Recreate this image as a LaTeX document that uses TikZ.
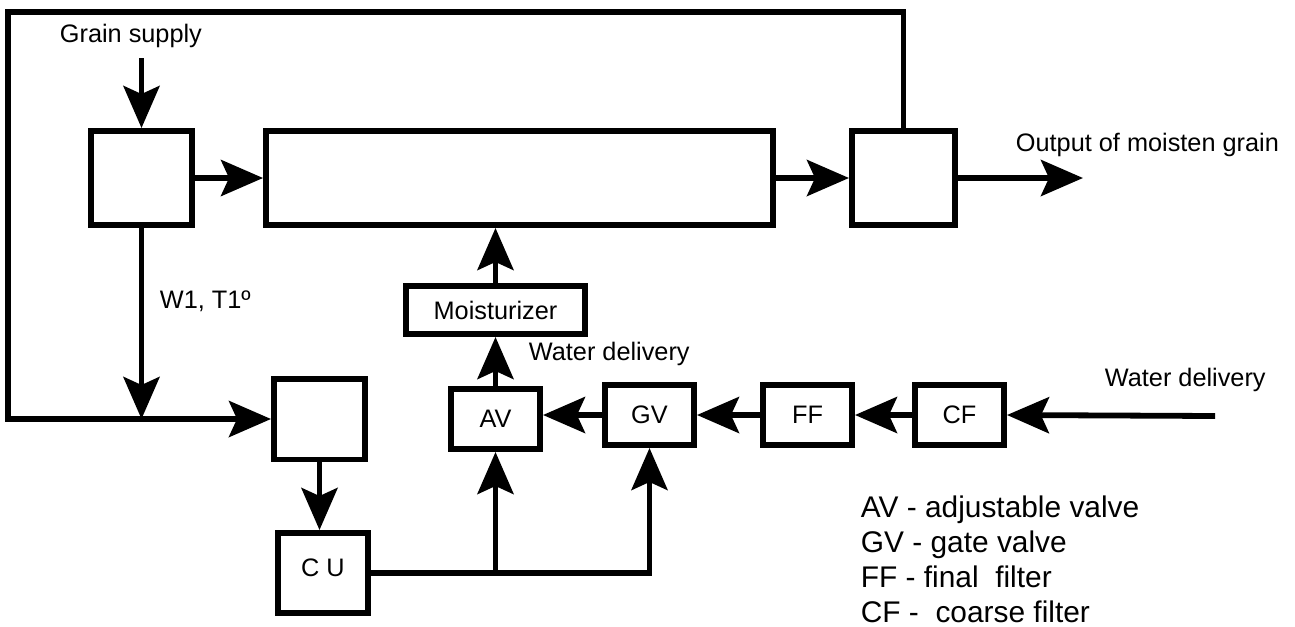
\documentclass[tikz,border=0pt]{standalone}
\usepackage{fontspec}
\setmainfont{Liberation Sans}
\usetikzlibrary{arrows.meta,positioning}

\begin{document}
\begin{tikzpicture}[x=0.02cm,y=-0.02cm,line width=3.3pt,
    font=\fontsize{14.4}{17}\selectfont,
    >={Stealth[length=8.4mm,width=7.2mm,inset=1.6mm]},
    blk/.style={draw,line width=3.4pt,inner sep=0pt},
    lbl/.style={anchor=base west,inner sep=0pt}]
  \useasboundingbox (0,0) rectangle (1295,626);
  % grain line
  \node[blk,minimum width=2.02cm,minimum height=1.88cm] (feed) at (141.5,178) {};
  \node[blk,minimum width=10.14cm,minimum height=1.88cm] (mix) at (519.5,178) {};
  \node[blk,minimum width=2.06cm,minimum height=1.88cm] (outb) at (903.5,178) {};
  \node[blk,minimum width=1.82cm,minimum height=1.62cm] (sens) at (319.5,419) {};
  \node[blk,minimum width=1.8cm,minimum height=1.6cm,text depth=0.2cm] (cu) at (323,573) {C U};
  \node[blk,minimum width=3.58cm,minimum height=0.96cm] (moist) at (495.5,310) {Moisturizer};
  % water line
  \foreach \n/\t/\x/\y in {av/AV/495.5/419,gv/GV/649.5/415,ff/FF/807.5/415,cf/CF/959.5/415}
    \node[blk,minimum width=1.78cm,minimum height=1.2cm] (\n) at (\x,\y) {\t};

  \node[lbl] (gsup) at (57,42) {Grain supply};
  \node[lbl] (wt) at (157,308) {W1, T1º};
  \node[lbl] (outt) at (1013,151) {Output of moisten grain};
  \node[lbl] (wd1) at (526,360) {Water delivery};
  \node[lbl] (wd2) at (1102,386) {Water delivery};
  \foreach \i/\t in {0/{AV - adjustable valve},1/{GV - gate valve},2/{FF - final\ \ filter},3/{CF -\ \ coarse filter}}
    \node[lbl,font=\fontsize{17}{20}\selectfont] (lg\i) at (858,517+35*\i) {\t};

  \coordinate (gin) at (141.5,58);
  \coordinate (oend) at (1083,178);
  \coordinate (wend) at (1215,416);
  \coordinate (tl) at (8,12);

  \draw[->] (gin) -- (feed.north);
  \draw[->] (feed) -- (mix);
  \draw[->] (mix) -- (outb);
  \draw[->] (outb) -- (oend);
  \draw[->] (outb.north) |- (tl) |- (sens.west);
  \draw[->] (feed.south) -- (feed.south |- sens.west);
  \draw[->] (sens.south) -- (sens.south |- cu.north);
  \draw[->] (cu.east) -| (gv.south);
  \draw[->] (av.south |- cu.east) -- (av.south);
  \draw[->] (av) -- (moist);
  \draw[->] (moist.north) -- (moist.north |- mix.south);
  \draw[->] (gv.west) -- (gv.west -| av.east);
  \draw[->] (ff) -- (gv);
  \draw[->] (cf) -- (ff);
  \draw[->] (wend) -- (cf.east);
\end{tikzpicture}
\end{document}
